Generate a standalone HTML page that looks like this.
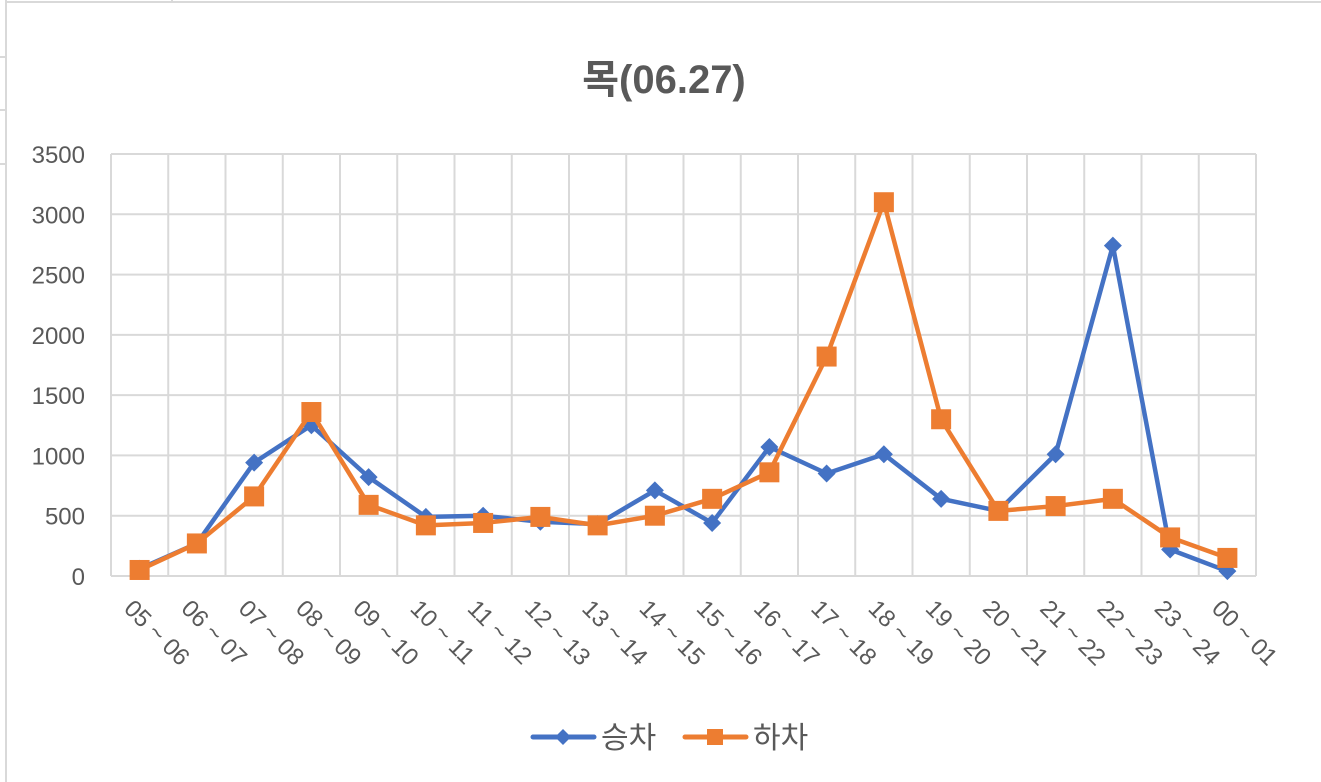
<!DOCTYPE html>
<html><head><meta charset="utf-8"><style>
html,body{margin:0;padding:0;background:#fff;}
svg{display:block;font-family:"Liberation Sans","Noto Sans CJK KR","NanumGothic",sans-serif;}
</style></head><body>
<svg id="chart" width="1321" height="782">
<rect x="0" y="0" width="1321" height="782" fill="#fff"/>
<g stroke="#d9d9d9" stroke-width="2">
<line x1="6" y1="0" x2="6" y2="782"/><line x1="6" y1="2" x2="1321" y2="2"/>
<line x1="0" y1="57" x2="6" y2="57"/><line x1="0" y1="110" x2="6" y2="110"/><line x1="0" y1="164" x2="6" y2="164"/>
<line x1="172" y1="0" x2="172" y2="2"/>
</g>
<text x="664" y="93" text-anchor="middle" font-size="40" font-weight="bold" fill="#595959">목(06.27)</text>
<g id="grid"></g>
<g id="yticks"></g>
<g id="xticks"></g>
<g id="series"></g>
<g>
<g>
<line x1="533" y1="737" x2="594" y2="737" stroke="#4472c4" stroke-width="5" stroke-linecap="round"/>
<polygon points="563,729 571,737 563,745 555,737" fill="#4472c4"/>
<text x="601" y="748" font-size="30" fill="#595959">승차</text>
</g>
<g>
<line x1="685" y1="737" x2="746" y2="737" stroke="#ed7d31" stroke-width="5" stroke-linecap="round"/>
<rect x="707" y="729" width="16" height="16" fill="#ed7d31"/>
<text x="753" y="748" font-size="30" fill="#595959">하차</text>
</g>
</g>
</svg>
<script>
const categories=["05 ~ 06","06 ~ 07","07 ~ 08","08 ~ 09","09 ~ 10","10 ~ 11","11 ~ 12","12 ~ 13","13 ~ 14","14 ~ 15","15 ~ 16","16 ~ 17","17 ~ 18","18 ~ 19","19 ~ 20","20 ~ 21","21 ~ 22","22 ~ 23","23 ~ 24","00 ~ 01"];
const boarding=[60,270,940,1250,820,490,500,450,430,710,440,1070,850,1010,640,540,1010,2740,220,40];
const alighting=[50,270,660,1360,590,420,440,490,420,500,640,860,1820,3100,1300,540,580,640,320,150];
const yTicks=[0,500,1000,1500,2000,2500,3000,3500];
const NS="http://www.w3.org/2000/svg";
const L=111,R=1256,T=154,B=576,YMAX=3500;
const step=(R-L)/categories.length;
const xPos=i=>L+step*(i+0.5);
const yPos=v=>B-(v/YMAX)*(B-T);
function mk(tag,attrs,parent){const e=document.createElementNS(NS,tag);for(const k in attrs)e.setAttribute(k,attrs[k]);parent.appendChild(e);return e;}
const grid=document.getElementById('grid'),yt=document.getElementById('yticks'),xt=document.getElementById('xticks'),ser=document.getElementById('series');
yTicks.forEach(v=>{
  const l=mk('line',{x1:L,x2:R,y1:yPos(v),y2:yPos(v),stroke:'#d9d9d9','stroke-width':2},grid);
  
  
  const t=mk('text',{x:85,y:yPos(v)+9,'text-anchor':'end','font-size':24,fill:'#595959'},yt);
  t.textContent=v;
  
  
});
for(let i=0;i<=categories.length;i++){
  const x=L+step*i;
  const l=mk('line',{x1:x,x2:x,y1:T,y2:B,stroke:'#d9d9d9','stroke-width':2},grid);
  
  
}
categories.forEach((c,i)=>{
  const x=xPos(i)-5,y=598;
  const t=mk('text',{x:x,y:y,'font-size':24,fill:'#595959',transform:`rotate(45 ${x} ${y})`,'dominant-baseline':'hanging'},xt);
  t.textContent=c;
  
  
});
function drawSeries(vals,color,marker,name){
  const g=mk('g',{},ser);
  
  
  const p=mk('polyline',{points:vals.map((v,i)=>xPos(i)+','+yPos(v)).join(' '),fill:'none',stroke:color,'stroke-width':4.5,'stroke-linejoin':'round'},g);
  
  
  vals.forEach((v,i)=>{
    const x=xPos(i),y=yPos(v);let m;
    if(marker==='diamond')m=mk('polygon',{points:`${x},${y-9} ${x+9},${y} ${x},${y+9} ${x-9},${y}`,fill:color},g);
    else m=mk('rect',{x:x-10,y:y-10,width:20,height:20,fill:color},g);
    
    
  });
}
drawSeries(boarding,'#4472c4','diamond','boarding-series');
drawSeries(alighting,'#ed7d31','square','alighting-series');
</script>
</body></html>
